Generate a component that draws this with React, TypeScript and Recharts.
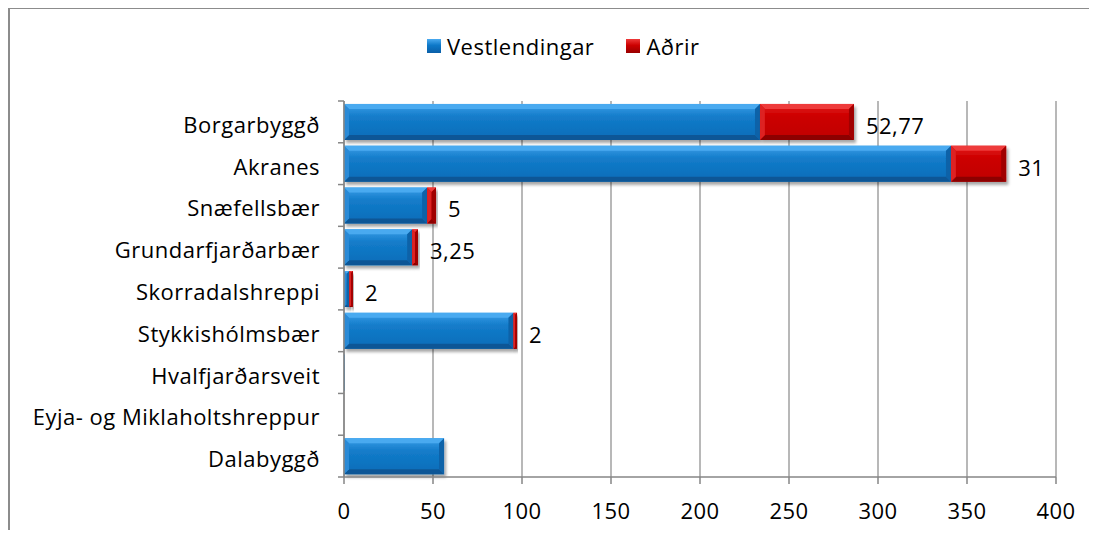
import { BarChart, Bar, XAxis, YAxis, CartesianGrid, LabelList } from "recharts";

const categories = [
  "Borgarbyggð",
  "Akranes",
  "Snæfellsbær",
  "Grundarfjarðarbær",
  "Skorradalshreppi",
  "Stykkishólmsbær",
  "Hvalfjarðarsveit",
  "Eyja- og Miklaholtshreppur",
  "Dalabyggð",
];
const vestlendingar = [233.7, 341, 46.7, 38.3, 3, 95.2, 0.3, 0, 56.2];
const adrir = [52.77, 31, 5, 3.25, 2, 2, 0, 0, 0];
const xTicks = [0, 50, 100, 150, 200, 250, 300, 350, 400];

const data = categories.map((name, i) => ({
  name,
  vest: vestlendingar[i],
  adrir: adrir[i],
}));

const W = 1083;
const H = 522;
const M = { top: 93, right: 35, bottom: 23, left: 0 };
const Y_W = 336;
const band = (H - M.top - M.bottom - 30) / categories.length;
const FONT = "'Open Sans', 'Noto Sans', sans-serif";
const FS = 22;
const LS = 0.5;
const AXIS = "#868686";

const palettes: Record<string, { face: string; top: string; bot: string; left: string; right: string }> = {
  blue: { face: "url(#faceBlue)", top: "#4aaaf0", bot: "#0a5796", left: "#2a8ad6", right: "#0a62a8" },
  red: { face: "url(#faceRed)", top: "#ee3a3a", bot: "#8c0000", left: "#dd2020", right: "#a00000" },
};

const BevelBar = (color: string) => (props: any) => {
  const { x, y, width, height } = props;
  if (!width || width <= 0 || !height) return null;
  const p = palettes[color];
  const b = Math.min(5, width / 2, height / 2);
  const x2 = x + width;
  const y2 = y + height;
  return (
    <g filter="url(#barShadow)">
      <rect x={x} y={y} width={width} height={height} fill={p.face} />
      <polygon points={`${x},${y} ${x2},${y} ${x2 - b},${y + b} ${x + b},${y + b}`} fill={p.top} />
      <polygon points={`${x},${y2} ${x2},${y2} ${x2 - b},${y2 - b} ${x + b},${y2 - b}`} fill={p.bot} />
      <polygon points={`${x},${y} ${x + b},${y + b} ${x + b},${y2 - b} ${x},${y2}`} fill={p.left} />
      <polygon points={`${x2},${y} ${x2 - b},${y + b} ${x2 - b},${y2 - b} ${x2},${y2}`} fill={p.right} />
    </g>
  );
};

const YTick = (props: any) => {
  const { x, y, payload, index } = props;
  const axisX = Y_W;
  return (
    <g>
      <text
        x={x}
        y={y + 2}
        textAnchor="end"
        dominantBaseline="central"
        fontSize={FS}
        letterSpacing={LS}
        fill="#000"
        fontFamily={FONT}
      >
        {payload.value}
      </text>
      <line x1={axisX - 6} x2={axisX} y1={y - band / 2} y2={y - band / 2} stroke={AXIS} strokeWidth={1.5} />
      {index === categories.length - 1 && (
        <line x1={axisX - 6} x2={axisX} y1={y + band / 2} y2={y + band / 2} stroke={AXIS} strokeWidth={1.5} />
      )}
    </g>
  );
};

const ValueLabel = (props: any) => {
  const { x, y, width, height, value } = props;
  if (!value) return null;
  return (
    <text
      x={x + width + 12}
      y={y + height / 2 + 3}
      dominantBaseline="central"
      fontSize={FS}
      letterSpacing={LS}
      fill="#000"
      fontFamily={FONT}
    >
      {String(value).replace(".", ",")}
    </text>
  );
};

const LegendItem = ({ color, label }: { color: string; label: string }) => (
  <div style={{ display: "flex", alignItems: "center", marginRight: 32 }}>
    <div
      style={{
        width: 14,
        height: 14,
        background:
          color === "blue"
            ? "linear-gradient(180deg, #4aaaf0 0%, #0d78c8 45%, #0a5fa8 100%)"
            : "linear-gradient(180deg, #ee3a3a 0%, #cc0000 45%, #990000 100%)",
        marginRight: 6,
      }}
    />
    <span>{label}</span>
  </div>
);

export default function App() {
  return (
    <div style={{ position: "relative", width: W, height: H, fontFamily: FONT }}>
      <svg width={0} height={0} style={{ position: "absolute" }}>
        <defs>
          <linearGradient id="faceBlue" x1="0" y1="0" x2="0" y2="1">
            <stop offset="0%" stopColor="#3c9ee8" />
            <stop offset="35%" stopColor="#137cca" />
            <stop offset="100%" stopColor="#0a6cb8" />
          </linearGradient>
          <linearGradient id="faceRed" x1="0" y1="0" x2="0" y2="1">
            <stop offset="0%" stopColor="#e41a1a" />
            <stop offset="35%" stopColor="#cc0000" />
            <stop offset="100%" stopColor="#c00000" />
          </linearGradient>
          <filter id="barShadow" x="-10%" y="-20%" width="130%" height="160%">
            <feDropShadow dx={2} dy={3} stdDeviation={1.5} floodColor="#000" floodOpacity={0.35} />
          </filter>
        </defs>
      </svg>
      <div
        style={{
          position: "absolute",
          left: 0,
          top: -1,
          width: W,
          height: H + 1,
          borderLeft: "2px solid #8c8c8c",
          borderTop: "2px solid #8c8c8c",
          boxSizing: "border-box",
        }}
      />
      <div
        style={{
          position: "absolute",
          top: 23,
          left: 419,
          display: "flex",
          fontSize: FS,
          letterSpacing: LS,
          lineHeight: "30px",
        }}
      >
        <LegendItem color="blue" label="Vestlendingar" />
        <LegendItem color="red" label="Aðrir" />
      </div>
      <div style={{ position: "absolute", left: 0, top: 0 }}>
        <BarChart width={W} height={H} data={data} layout="vertical" margin={M} barCategoryGap="7%">
          <CartesianGrid horizontal={false} stroke="#a0a0a0" strokeWidth={1.5} />
          <XAxis
            type="number"
            domain={[0, 400]}
            ticks={xTicks}
            interval={0}
            tickSize={7}
            tickMargin={19}
            stroke={AXIS}
            strokeWidth={1.5}
            tick={{ fill: "#000", fontSize: FS, fontFamily: FONT, letterSpacing: LS }}
          />
          <YAxis
            type="category"
            dataKey="name"
            width={Y_W}
            tickLine={false}
            tickSize={0}
            tickMargin={24}
            interval={0}
            stroke={AXIS}
            strokeWidth={1.5}
            tick={<YTick />}
          />
          <Bar dataKey="vest" stackId="a" isAnimationActive={false} shape={BevelBar("blue")} />
          <Bar dataKey="adrir" stackId="a" isAnimationActive={false} shape={BevelBar("red")}>
            <LabelList dataKey="adrir" content={<ValueLabel />} />
          </Bar>
        </BarChart>
      </div>
    </div>
  );
}
